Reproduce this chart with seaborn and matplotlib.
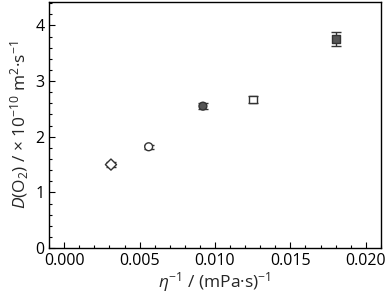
import pandas as pd
import matplotlib
matplotlib.use("Agg")
import matplotlib.pyplot as plt
from matplotlib.ticker import MultipleLocator
import seaborn as sns

# data
samples = ["A", "B", "C", "D", "E"]
inv_eta = [0.0031, 0.0056, 0.0092, 0.0125, 0.0180]
d_o2 = [1.50, 1.82, 2.55, 2.67, 3.76]
d_err = [0.05, 0.04, 0.06, 0.06, 0.13]
marker_map = {"A": "D", "B": "o", "C": "o", "D": "s", "E": "s"}
face_map = {"A": "white", "B": "white", "C": "#555555", "D": "white", "E": "#555555"}

dados = pd.DataFrame({"sample": samples, "x": inv_eta, "y": d_o2, "err": d_err})

sns.set_style("ticks")
plt.rcParams["font.family"] = ["Open Sans", "DejaVu Sans"]
plt.rcParams["mathtext.fontset"] = "custom"
plt.rcParams["mathtext.rm"] = "Open Sans"
plt.rcParams["mathtext.it"] = "Open Sans:italic"

fig = plt.figure(figsize=(3.87, 2.96), dpi=100)
ax = fig.add_axes([0.127, 0.162, 0.857, 0.831])

ax.errorbar(dados["x"], dados["y"], yerr=dados["err"], fmt="none", ecolor="#333333",
            elinewidth=1, capsize=3.5, capthick=1, zorder=2)
sns.scatterplot(data=dados, x="x", y="y", hue="sample", style="sample",
                palette=face_map, markers=marker_map, s=32, edgecolor="#333333",
                linewidth=1, legend=False, ax=ax, zorder=3)

ax.set_xlim(-0.001, 0.021)
ax.set_ylim(0, 4.42)
ax.xaxis.set_major_locator(MultipleLocator(0.005))
ax.xaxis.set_minor_locator(MultipleLocator(0.001))
ax.yaxis.set_major_locator(MultipleLocator(1))
ax.yaxis.set_minor_locator(MultipleLocator(0.2))
ax.xaxis.set_major_formatter(plt.FuncFormatter(lambda v, p: f"{v:.3f}"))
ax.tick_params(which="both", direction="in", colors="black", labelsize=11.5)
ax.tick_params(which="major", length=4, width=0.8)
ax.tick_params(which="minor", length=2, width=0.8)
for s in ax.spines.values():
    s.set_visible(True)
    s.set_color("black")
    s.set_linewidth(1)

ax.set_xlabel(r"$\eta^{-1}$ / (mPa·s)$^{-1}$", fontsize=12.5, labelpad=1)
ax.set_ylabel(r"$D$(O$_2$) / × 10$^{-10}$ m$^2$·s$^{-1}$", fontsize=12.5, labelpad=3)

fig.savefig("out.png", dpi=100)
